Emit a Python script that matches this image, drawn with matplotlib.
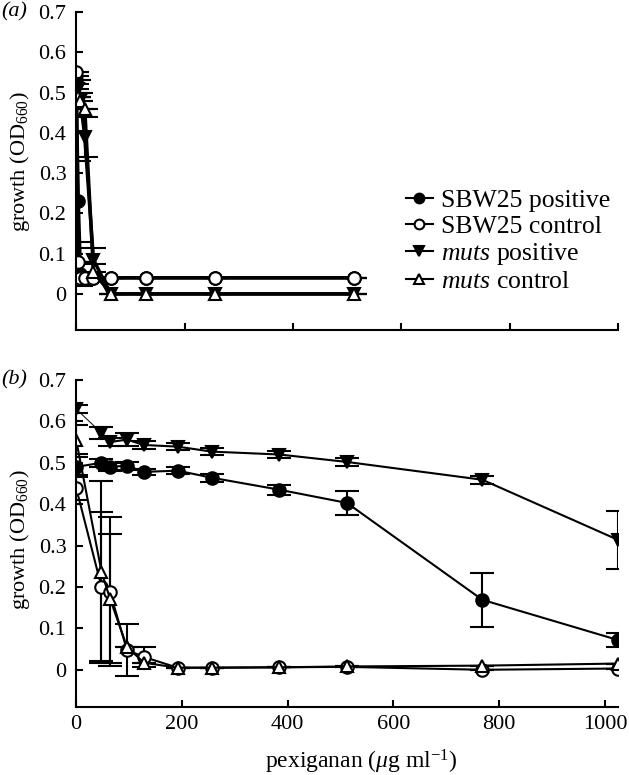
import matplotlib
matplotlib.use('Agg')
import matplotlib.pyplot as plt
from matplotlib.lines import Line2D
import numpy as np

plt.rcParams['font.family'] = ['Liberation Serif', 'DejaVu Serif']
plt.rcParams['mathtext.fontset'] = 'custom'
plt.rcParams['mathtext.rm'] = 'Liberation Serif'
plt.rcParams['mathtext.it'] = 'Liberation Serif:italic'

# ---- panel (a) data ----
conc_a = [0, 2, 4, 8, 16, 32, 64, 128, 256]
sbw_pos_a = [0.53, 0.23, 0.05, 0.04, 0.04, 0.04, 0.04, 0.04, 0.04]
sbw_pos_a_err = [0.01, 0.10, 0.03, 0.0, 0.0, 0.0, 0.0, 0.0, 0.0]
sbw_ctl_a = [0.55, 0.08, 0.04, 0.04, 0.04, 0.04, 0.04, 0.04, 0.04]
sbw_ctl_a_err = [0.0, 0.0, 0.0, 0.0, 0.0, 0.0, 0.0, 0.0, 0.0]
muts_pos_a = [0.52, 0.51, 0.48, 0.39, 0.085, 0.0, 0.0, 0.0, 0.0]
muts_pos_a_err = [0.01, 0.02, 0.02, 0.05, 0.03, 0.0, 0.0, 0.0, 0.0]
muts_ctl_a = [0.50, 0.49, 0.48, 0.46, 0.055, 0.0, 0.0, 0.0, 0.0]
muts_ctl_a_err = [0.0, 0.0, 0.0, 0.0, 0.02, 0.0, 0.0, 0.0, 0.0]

# ---- panel (b) data ----
conc_b = [0, 48, 64, 96, 128, 192, 256, 384, 512, 768, 1024]
sbw_pos_b = [0.49, 0.50, 0.49, 0.493, 0.478, 0.481, 0.464, 0.435, 0.403, 0.169, 0.072]
sbw_pos_b_err = [0.025, 0.01, 0.01, 0.01, 0.008, 0.008, 0.01, 0.012, 0.03, 0.065, 0.018]
sbw_ctl_b = [0.44, 0.20, 0.188, 0.048, 0.031, 0.005, 0.005, 0.006, 0.007, 0.0, 0.003]
sbw_ctl_b_err = [0.03, 0.18, 0.18, 0.062, 0.025, 0.0, 0.0, 0.0, 0.0, 0.0, 0.0]
muts_pos_b = [0.63, 0.572, 0.55, 0.556, 0.543, 0.539, 0.527, 0.52, 0.502, 0.459, 0.314]
muts_pos_b_err = [0.01, 0.015, 0.01, 0.015, 0.01, 0.008, 0.008, 0.008, 0.01, 0.01, 0.07]
muts_ctl_b = [0.556, 0.237, 0.172, 0.056, 0.017, 0.005, 0.005, 0.006, 0.008, 0.01, 0.015]
muts_ctl_b_err = [0.035, 0.22, 0.155, 0.0, 0.0, 0.0, 0.0, 0.0, 0.0, 0.0, 0.0]

labels = ['SBW25 positive', 'SBW25 control', r'$\it{muts}$ positive', r'$\it{muts}$ control']
markers = ['o', 'o', 'v', '^']
faces = ['black', 'white', 'black', 'white']

fig = plt.figure(figsize=(6.29, 7.75), dpi=100)
ax1 = fig.add_axes([0.121, 0.574, 0.862, 0.4105])
ax2 = fig.add_axes([0.121, 0.0877, 0.862, 0.422])


def style_axes(ax):
    for s in ['top', 'right']:
        ax.spines[s].set_visible(False)
    for s in ['left', 'bottom']:
        ax.spines[s].set_linewidth(1.5)
    ax.tick_params(direction='in', length=5, width=1.5, labelsize=16)
    ax.tick_params(axis='y', pad=7)
    ax.tick_params(axis='x', pad=6)
    ax.set_ylim(-0.09, 0.7)
    ax.set_yticks(np.arange(0, 0.71, 0.1))
    ax.set_yticklabels(['0', '0.1', '0.2', '0.3', '0.4', '0.5', '0.6', '0.7'])


# top panel
series_a = [(sbw_pos_a, sbw_pos_a_err), (sbw_ctl_a, sbw_ctl_a_err),
            (muts_pos_a, muts_pos_a_err), (muts_ctl_a, muts_ctl_a_err)]
for (y, e), m, fc, lab in zip(series_a, markers, faces, labels):
    ax1.errorbar(conc_a, y, yerr=e, color='black', marker=m, mfc=fc, mec='black',
                 ms=9, mew=1.5, lw=2.5, elinewidth=1.5, capsize=9, capthick=1.5,
                 label=lab)
ax1.set_xlim(0, 500)
ax1.set_xticks(np.arange(0, 501, 100))
ax1.set_xticklabels([])
style_axes(ax1)

# legend with short thin handles
handles = [Line2D([], [], color='black', lw=1.5, marker=m, mfc=fc, mec='black', ms=7, mew=1.5)
           for m, fc in zip(markers, faces)]
ax1.legend(handles, labels, loc='upper left', bbox_to_anchor=(0.608, 0.443), frameon=False,
           fontsize=18.5, handlelength=1.05, handletextpad=0.32, labelspacing=0.11,
           borderpad=0, borderaxespad=0)

# bottom panel
series_b = [(sbw_pos_b, sbw_pos_b_err), (sbw_ctl_b, sbw_ctl_b_err),
            (muts_pos_b, muts_pos_b_err), (muts_ctl_b, muts_ctl_b_err)]
kw = dict(color='black', mec='black', ms=9, mew=1.5, elinewidth=1.5, capsize=8.5,
          capthick=1.5)
for i, ((y, e), m, fc) in enumerate(zip(series_b, markers, faces)):
    if i == 2:
        # first segment is drawn with a thin line in the original
        ax2.plot(conc_b[:2], y[:2], color='black', lw=0.7)
        ax2.errorbar(conc_b[1:], y[1:], yerr=e[1:], marker=m, mfc=fc, lw=1.5, **kw)
        ax2.errorbar(conc_b[:1], y[:1], yerr=e[:1], marker=m, mfc=fc, lw=1.5, **kw)
    else:
        ax2.errorbar(conc_b, y, yerr=e, marker=m, mfc=fc, lw=1.5, **kw)
ax2.set_xlim(0, 1025)
ax2.set_xticks(np.arange(0, 1001, 200))
style_axes(ax2)

ylab = r'growth (OD$_{660}$)'
fig.text(0.032, 1 - 162 / 775, ylab, rotation=90, fontsize=16,
         ha='center', va='center')
fig.text(0.032, 1 - 540 / 775, ylab, rotation=90, fontsize=16,
         ha='center', va='center')
fig.text(0.575, 1 - 762 / 775, r'pexiganan ($\mu$g ml$^{-1}$)', fontsize=17,
         ha='center', va='center')
fig.text(0.002, 1 - 12 / 775, '(a)', fontsize=16, style='italic', ha='left', va='center')
fig.text(0.002, 1 - 380 / 775, '(b)', fontsize=16, style='italic', ha='left', va='center')

fig.savefig('out.png', dpi=100)
